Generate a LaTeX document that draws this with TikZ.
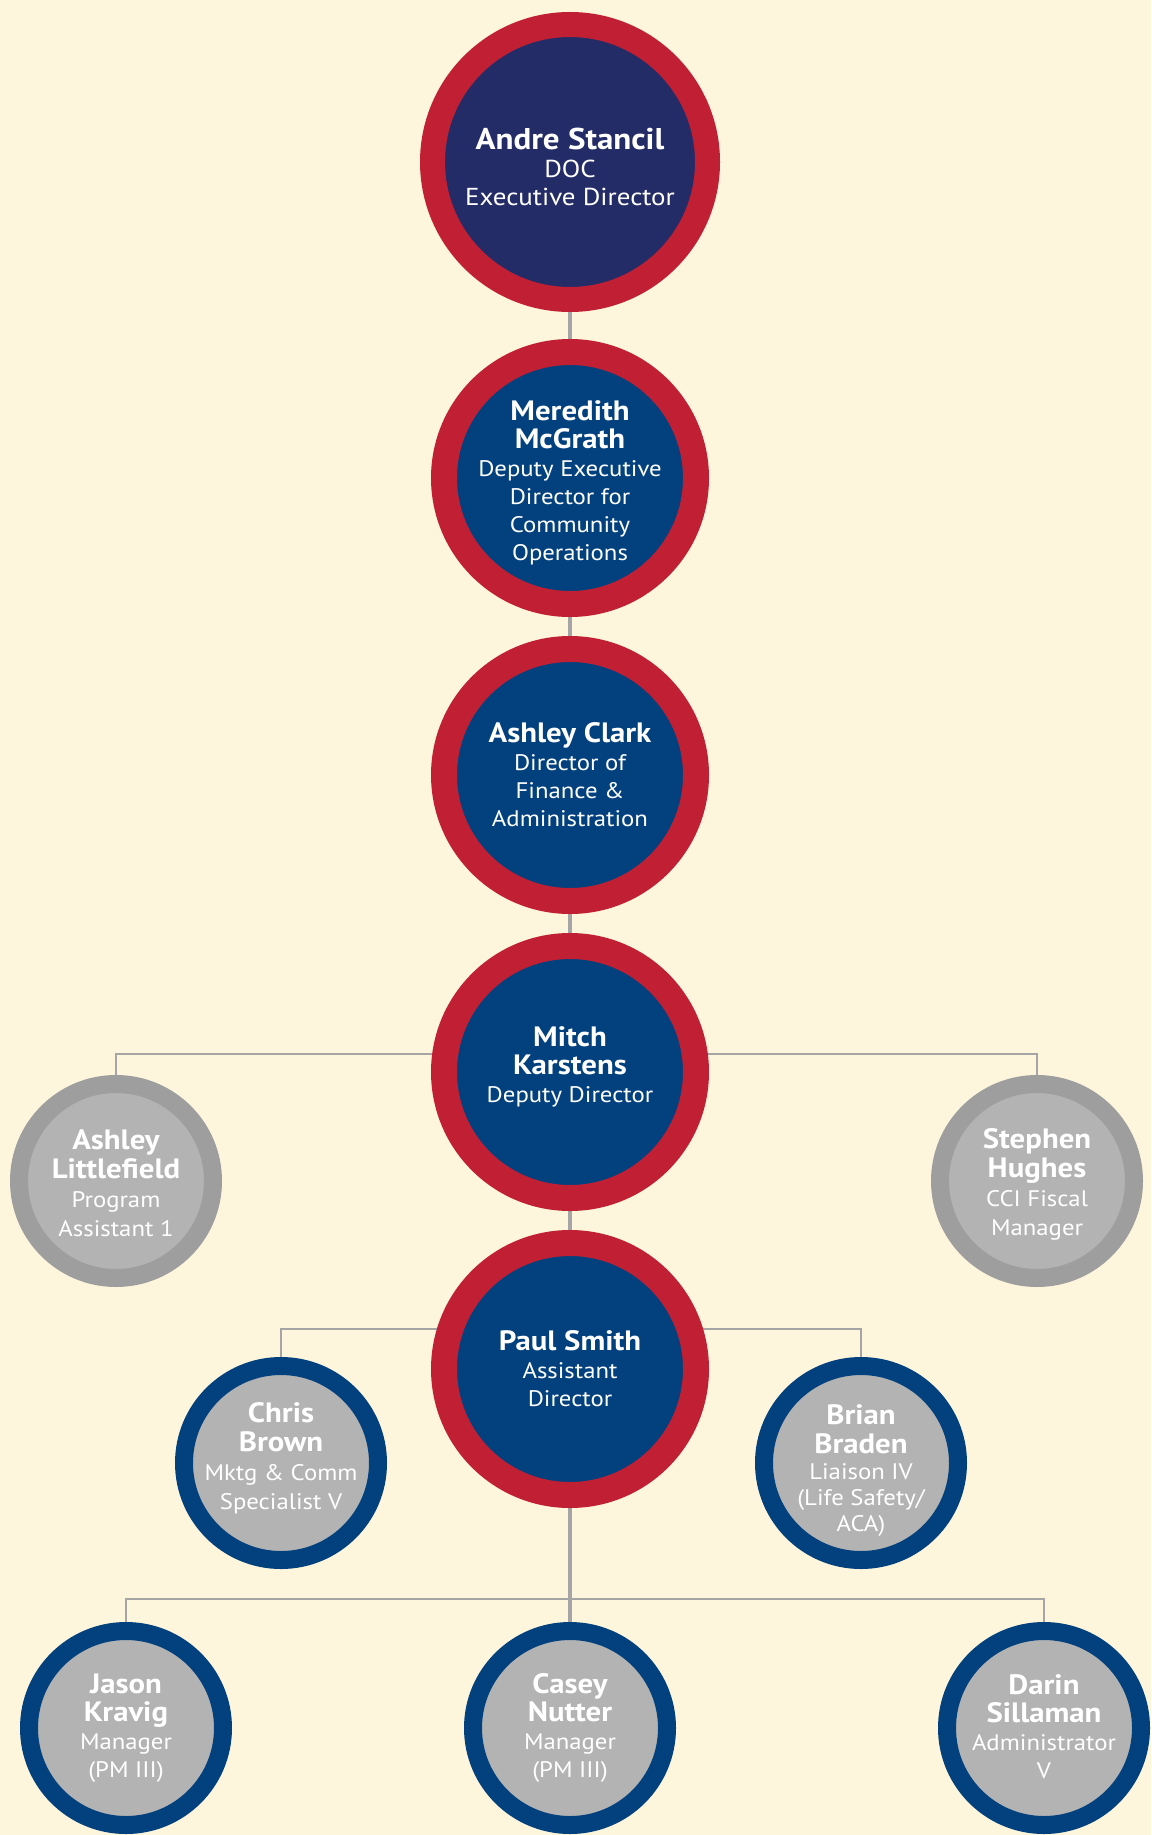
\documentclass[tikz,border=0pt]{standalone}
\usepackage{fontspec}
\setmainfont{PT Sans}[FakeStretch=1.1]
\usetikzlibrary{backgrounds}
\definecolor{cream}{RGB}{253,245,220}
\definecolor{ringred}{RGB}{193,31,51}
\definecolor{navy}{RGB}{36,44,103}
\definecolor{deepblue}{RGB}{2,65,126}
\definecolor{greyring}{RGB}{158,158,158}
\definecolor{greyfill}{RGB}{179,179,179}
\definecolor{linegrey}{RGB}{165,165,165}
\newcommand\nm[1]{{\bfseries\fontsize{28}{28}\selectfont #1}}
\tikzset{
  bigperson/.style={circle, minimum size=252pt, inner sep=0pt, fill=deepblue, draw=ringred,
    line width=26pt},
  topperson/.style={bigperson, minimum size=275pt, line width=25pt, fill=navy},
  greyperson/.style={circle, minimum size=194pt, inner sep=0pt, fill=greyfill, draw=greyring,
    line width=18pt},
  blueperson/.style={greyperson, draw=deepblue},
  bigtext/.style={inner sep=0pt, text=white, align=center, font=\fontsize{22.5}{28}\selectfont},
  toptext/.style={bigtext, font=\fontsize{24.5}{28}\selectfont},
  smalltext/.style={inner sep=0pt, text=white, align=center, font=\fontsize{22.5}{29}\selectfont},
  mainline/.style={draw=linegrey, line width=4.5pt},
  sideline/.style={draw=linegrey, line width=2pt}
}
\begin{document}
\begin{tikzpicture}[x=1pt,y=-1pt]
\path[use as bounding box] (0,0) rectangle (1151,1835);

\node[topperson] (andre) at (570,162) {};
\node[bigperson] (meredith) at (570,478) {};
\node[bigperson] (clark) at (570,775) {};
\node[bigperson] (mitch) at (570,1072) {};
\node[bigperson] (paul) at (570,1369) {};
\node[greyperson] (littlefield) at (116,1181) {};
\node[greyperson] (hughes) at (1037,1181) {};
\node[blueperson] (chris) at (281,1463) {};
\node[blueperson] (brian) at (861,1463) {};
\node[blueperson] (jason) at (126,1728) {};
\node[blueperson] (casey) at (570,1728) {};
\node[blueperson] (darin) at (1044,1728) {};

\node[toptext] (andre-t) at ([yshift=-4.5pt]andre.center) {{\bfseries\fontsize{30}{28}\selectfont Andre Stancil}\\DOC\\Executive Director};
\node[bigtext] (meredith-t) at ([yshift=-4.5pt]meredith.center) {\nm{Meredith}\\\nm{McGrath}\\Deputy Executive\\Director for\\Community\\Operations};
\node[bigtext] (clark-t) at (clark.center) {\nm{Ashley Clark}\\Director of\\Finance \&\\Administration};
\node[bigtext] (mitch-t) at ([yshift=5pt]mitch.center) {\nm{Mitch}\\\nm{Karstens}\\Deputy Director};
\node[bigtext] (paul-t) at (paul.center) {\nm{Paul Smith}\\Assistant\\Director};
\node[smalltext] (littlefield-t) at ([yshift=-2pt]littlefield.center) {\nm{Ashley}\\\nm{Littlefield}\\Program\\Assistant 1};
\node[smalltext] (hughes-t) at ([yshift=-3.5pt]hughes.center) {\nm{Stephen}\\\nm{Hughes}\\CCI Fiscal\\Manager};
\node[smalltext] (chris-t) at ([yshift=5pt]chris.center) {\nm{Chris}\\\nm{Brown}\\Mktg \& Comm\\Specialist V};
\node[smalltext, font=\fontsize{22.5}{26}\selectfont] (brian-t) at ([yshift=-7.5pt]brian.center) {\nm{Brian}\\[3pt]\nm{Braden}\\Liaison IV\\(Life Safety/\\ACA)};
\node[smalltext, font=\fontsize{22.5}{28}\selectfont] (jason-t) at (jason.center) {\nm{Jason}\\\nm{Kravig}\\Manager\\(PM III)};
\node[smalltext, font=\fontsize{22.5}{28}\selectfont] (casey-t) at (casey.center) {\nm{Casey}\\\nm{Nutter}\\Manager\\(PM III)};
\node[smalltext, font=\fontsize{22.5}{28}\selectfont] (darin-t) at ([yshift=1pt]darin.center) {\nm{Darin}\\\nm{Sillaman}\\Administrator\\V};

\coordinate (mitchbus) at (570,1054);
\coordinate (paulbus) at (570,1329);
\coordinate (bottombus) at (570,1599);

\begin{scope}[on background layer]
  \fill[cream] (0,0) rectangle (1151,1835);
  \draw[mainline] (andre) -- (meredith);
  \draw[mainline] (meredith) -- (clark);
  \draw[mainline] (clark) -- (mitch);
  \draw[mainline] (mitch) -- (paul);
  \draw[mainline] (paul) -- (casey);
  \draw[sideline] (mitchbus) -| (littlefield);
  \draw[sideline] (mitchbus) -| (hughes);
  \draw[sideline] (paulbus) -| (chris);
  \draw[sideline] (paulbus) -| (brian);
  \draw[sideline] (bottombus) -| (jason);
  \draw[sideline] (bottombus) -| (darin);
\end{scope}
\end{tikzpicture}
\end{document}
